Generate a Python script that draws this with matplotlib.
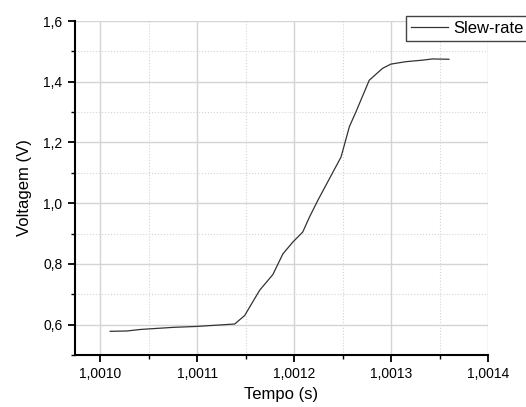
import matplotlib
matplotlib.use('Agg')
import matplotlib.pyplot as plt
from matplotlib.ticker import MultipleLocator, FuncFormatter

plt.rcParams['font.family'] = ['Liberation Sans', 'DejaVu Sans']

# data
tempo = [1.0010103, 1.0010274, 1.0010411, 1.0010753, 1.0010994, 1.0011387,
         1.0011490, 1.0011644, 1.0011781, 1.0011884, 1.0011987, 1.0012089,
         1.0012158, 1.0012244, 1.0012484, 1.0012570, 1.0012638, 1.0012775,
         1.0012912, 1.0012998, 1.0013152, 1.0013323, 1.0013426, 1.0013597]
voltagem = [0.578, 0.579, 0.584, 0.591, 0.594, 0.602,
            0.630, 0.713, 0.765, 0.833, 0.872, 0.905,
            0.954, 1.009, 1.152, 1.252, 1.301, 1.405,
            1.444, 1.458, 1.466, 1.471, 1.475, 1.474]

fig = plt.figure(figsize=(5.26, 4.07), dpi=100)
ax = fig.add_axes([0.1426, 0.1278, 0.7852, 0.8206])

ax.plot(tempo, voltagem, color='#333333', lw=0.9, label='Slew-rate')

ax.set_xlim(1.000974, 1.0014)
ax.set_ylim(0.5, 1.6)
ax.xaxis.set_major_locator(MultipleLocator(0.0001))
ax.xaxis.set_minor_locator(MultipleLocator(0.00005))
ax.yaxis.set_major_locator(MultipleLocator(0.2))
ax.yaxis.set_minor_locator(MultipleLocator(0.1))
ax.xaxis.set_major_formatter(FuncFormatter(lambda v, p: f'{v:.4f}'.replace('.', ',')))
ax.yaxis.set_major_formatter(FuncFormatter(lambda v, p: f'{v:.1f}'.replace('.', ',')))

ax.grid(True, which='major', color='#d4d4d4', lw=1.0, ls='-')
ax.grid(True, which='minor', color='#d4d4d4', lw=0.8, ls=':')
ax.set_axisbelow(True)

for s in ['top', 'right']:
    ax.spines[s].set_visible(False)
for s in ['left', 'bottom']:
    ax.spines[s].set_linewidth(1.5)
ax.tick_params(which='major', direction='out', length=5, width=1.3, labelsize=10, pad=4)
ax.tick_params(which='minor', direction='out', length=3, width=1.0)

ax.set_xlabel('Tempo (s)', fontsize=12, labelpad=4)
ax.set_ylabel('Voltagem (V)', fontsize=12, labelpad=8)

# legend box sits in the top-right corner, running off the figure edge
leg = fig.legend(loc='upper left', bbox_to_anchor=(406 / 526, 1 - 16 / 407),
                 fontsize=12, fancybox=False, edgecolor='#444444', framealpha=1,
                 handlelength=2.2, borderpad=0.3, borderaxespad=0,
                 handletextpad=0.35)
leg.get_frame().set_linewidth(1.0)

fig.savefig('out.png', dpi=100)
